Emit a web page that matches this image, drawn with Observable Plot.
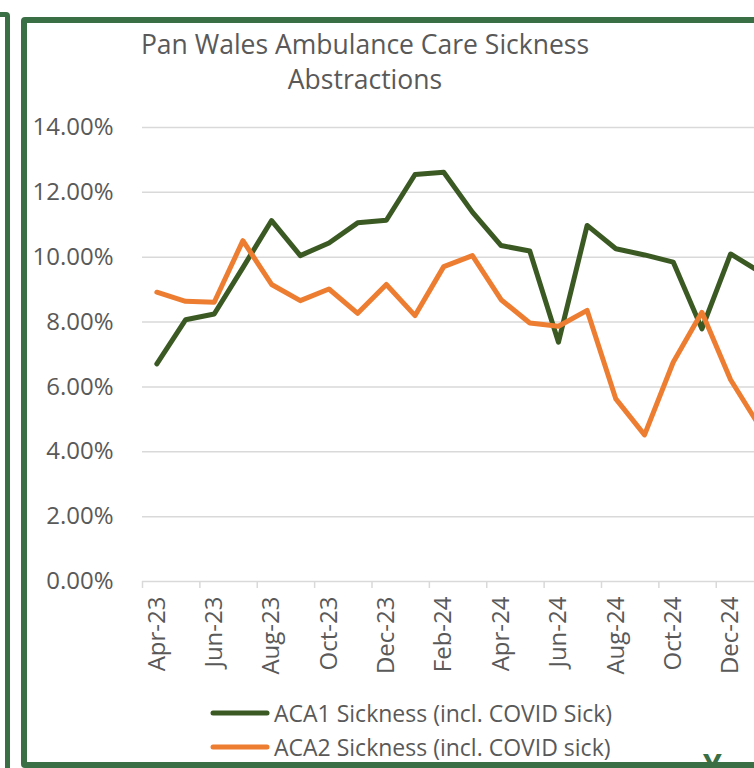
<!DOCTYPE html>
<html><head><meta charset="utf-8">
<script src="https://cdn.jsdelivr.net/npm/d3@7"></script>
<script src="https://cdn.jsdelivr.net/npm/@observablehq/plot@0.6"></script>
<style>
html,body{margin:0;padding:0;background:#fff;overflow:hidden;}
#page{position:relative;width:754px;height:768px;overflow:hidden;font-family:"Open Sans",sans-serif;background:#fff;}
#leftframe{position:absolute;left:-200px;top:12px;width:200px;height:800px;border:5.5px solid #3a6e44;border-radius:4px;}
#frame{position:absolute;left:21px;top:17px;width:900px;height:739px;border:6px solid #3a6e44;border-radius:4px;}
#title{position:absolute;left:65px;width:600px;top:27px;text-align:center;color:#595959;font-size:26.5px;line-height:35px;}
#chart{position:absolute;left:0;top:0;width:900px;}
#chart svg{max-width:none !important;}
#legend{position:absolute;left:210px;top:696px;color:#595959;font-size:23px;}
.item{display:flex;align-items:center;height:34px;white-space:nowrap;}
.item svg{margin-right:4px;}
#ymark{position:absolute;left:703px;top:744px;color:#3a6e44;font-size:30px;font-weight:bold;}
</style></head>
<body>
<div id="page">
  <div id="leftframe"></div>
  <div id="chart"></div>
  <div id="title">Pan Wales Ambulance Care Sickness<br>Abstractions</div>
  <div id="legend"></div>
  <div id="ymark">Y</div>
  <div id="frame"></div>
</div>
<script>
const months = ["Apr-23","May-23","Jun-23","Jul-23","Aug-23","Sep-23","Oct-23","Nov-23","Dec-23","Jan-24","Feb-24","Mar-24",
                "Apr-24","May-24","Jun-24","Jul-24","Aug-24","Sep-24","Oct-24","Nov-24","Dec-24","Jan-25","Feb-25","Mar-25"];
const aca1 = [6.71, 8.07, 8.25, 9.68, 11.13, 10.05, 10.44, 11.06, 11.14, 12.55, 12.62, 11.39,
              10.36, 10.19, 7.38, 10.98, 10.26, 10.07, 9.85, 7.79, 10.1, 9.56];
const aca2 = [8.92, 8.64, 8.61, 10.51, 9.16, 8.66, 9.02, 8.27, 9.16, 8.2, 9.71, 10.05,
              8.69, 7.97, 7.87, 8.36, 5.63, 4.52, 6.76, 8.3, 6.22, 4.8];
const yTicks = [0, 2, 4, 6, 8, 10, 12, 14];
const seriesNames = ["ACA1 Sickness (incl. COVID Sick)", "ACA2 Sickness (incl. COVID sick)"];
const colors = ["#3b5a23", "#ed7d31"];

const rows = [];
aca1.forEach((v, i) => rows.push({i, v, s: seriesNames[0]}));
aca2.forEach((v, i) => rows.push({i, v, s: seriesNames[1]}));
const labelIdx = months.map((m, i) => i).filter(i => i % 2 === 0 && i < aca1.length);
const boundaryIdx = months.map((m, i) => i).filter(i => i % 2 === 0).map(i => i - 0.5);

const chart = Plot.plot({
  width: 900, height: 700,
  marginLeft: 142, marginRight: 69.5, marginTop: 127, marginBottom: 119,
  style: {fontFamily: "'Open Sans', sans-serif", color: "#595959", background: "transparent", overflow: "visible", maxWidth: "none"},
  x: {domain: [-0.5, months.length - 0.5]},
  y: {domain: [0, 14]},
  color: {domain: seriesNames, range: colors},
  marks: [
    Plot.ruleY(yTicks, {stroke: "#d9d9d9", strokeWidth: 1.5}),
    Plot.axisX({ticks: boundaryIdx, tickSize: 7, tickFormat: () => "", stroke: "#d9d9d9", strokeWidth: 1.5, label: null}),
    Plot.axisX({ticks: labelIdx, tickSize: 0, tickPadding: 15, tickRotate: -90, tickFormat: i => months[i], fontSize: 24, fill: "#595959", label: null}),
    Plot.axisY({ticks: yTicks, tickSize: 0, tickPadding: 29, tickFormat: d => d.toFixed(2) + "%", fontSize: 24, fill: "#595959", label: null}),
    Plot.line(rows, {x: "i", y: "v", z: "s", stroke: "s", strokeWidth: 5, strokeLinejoin: "round", strokeLinecap: "round"})
  ]
});
document.getElementById("chart").appendChild(chart);

const legend = document.getElementById("legend");
seriesNames.forEach((name, k) => {
  const div = document.createElement("div");
  div.className = "item";
  div.innerHTML = `<svg width="60" height="10"><line x1="3" y1="5" x2="57" y2="5" stroke="${colors[k]}" stroke-width="5" stroke-linecap="round"/></svg><span>${name}</span>`;
  legend.appendChild(div);
});
</script>
</body></html>
